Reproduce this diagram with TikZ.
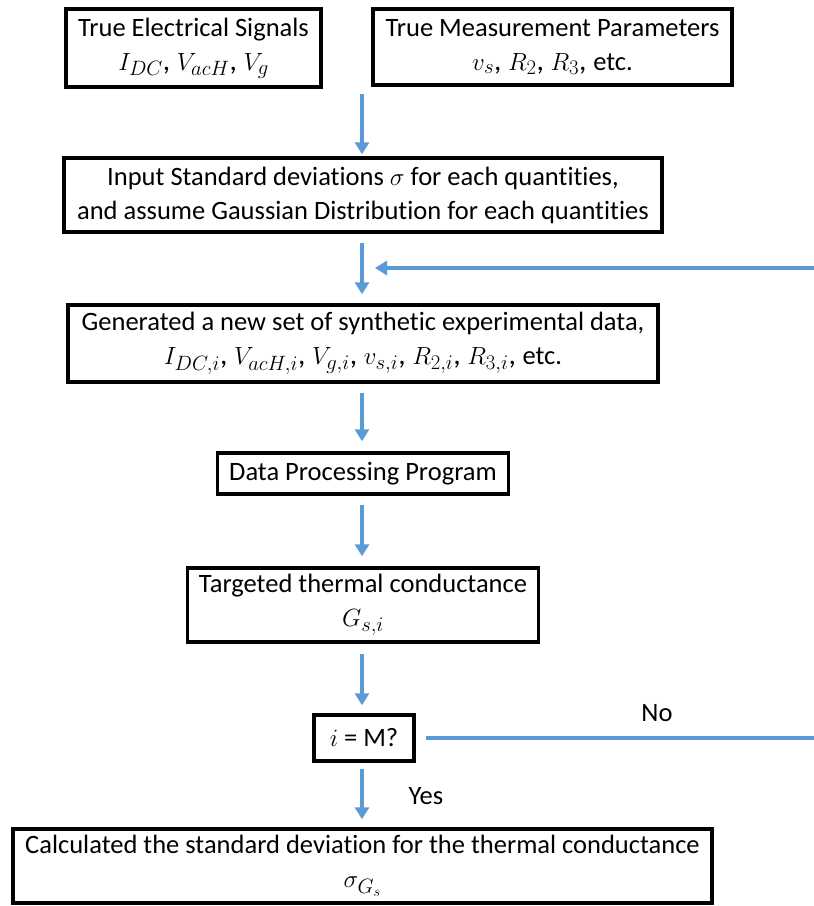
\documentclass[tikz,border=0pt]{standalone}
\usepackage{fontspec}
\setmainfont{Carlito}[Ligatures=NoCommon]
\usetikzlibrary{arrows.meta}
\definecolor{flowblue}{RGB}{91,155,213}
\newcommand{\mline}[1]{{\fontsize{29.5}{36}\selectfont #1}}
\newcommand{\tsmall}[1]{{\fontsize{26.5}{34}\selectfont #1}}
\begin{document}
\begin{tikzpicture}[x=1pt,y=-1pt,
  box/.style={draw=black,line width=3.5pt,align=center,font=\fontsize{26.5}{34}\selectfont,inner sep=0pt},
  arr/.style={draw=flowblue,line width=3.5pt,-{Triangle[width=14pt,length=12pt]}},
  lbl/.style={font=\fontsize{26.5}{30}\selectfont}]
\useasboundingbox (0,0) rectangle (814,906);
\node[box,minimum width=255pt,minimum height=78pt] (b1) at (193.5,48) {True Electrical Signals\\ \mline{$I_{DC}$, $V_{acH}$, $V_g$}};
\node[box,minimum width=359pt,minimum height=76pt] (b2) at (552.5,47) {True Measurement Parameters\\ \mline{$v_s$, $R_2$, $R_3$, \tsmall{etc.}}};
\node[box,minimum width=598pt,minimum height=74pt] (b3) at (363,195) {Input Standard deviations \mline{$\sigma$} for each quantities,\\ and assume Gaussian Distribution for each quantities};
\node[box,minimum width=590pt,minimum height=77pt] (b4) at (363,343.5) {Generated a new set of synthetic experimental data,\\ \mline{$I_{DC,i}$, $V_{acH,i}$, $V_{g,i}$, $v_{s,i}$, $R_{2,i}$, $R_{3,i}$, \tsmall{etc.}}};
\node[box,minimum width=291pt,minimum height=41pt] (b5) at (363,473.5) {Data Processing Program};
\node[box,minimum width=351pt,minimum height=74pt] (b6) at (363,605) {Targeted thermal conductance\\ \mline{$G_{s,i}$}};
\node[box,minimum width=100pt,minimum height=46pt] (b7) at (364,738) {\mline{$i$} = M?};
\node[box,minimum width=699pt,minimum height=74pt] (b8) at (362.5,866) {Calculated the standard deviation for the thermal conductance\\ \mline{$\sigma_{G_s}$}};
\coordinate (start) at (362,94);
\coordinate (fbR) at (814,268);
\coordinate (fbT) at (375,268);
\coordinate (noR) at (814,738);
\draw[arr,shorten >=2pt] (start) -- (start |- b3.north);
\draw[arr,shorten <=9pt,shorten >=9pt] (b3.south -| start) -- (b4.north -| start);
\draw[arr] (fbR) -- (fbT);
\draw[arr,shorten <=9pt,shorten >=10pt] (b4.south -| start) -- (b5.north -| start);
\draw[arr,shorten <=9pt,shorten >=10pt] (b5.south -| start) -- (b6.north -| start);
\draw[arr,shorten <=10pt,shorten >=8pt] (b6.south -| start) -- (b7.north -| start);
\draw[arr,shorten <=6pt,shorten >=8pt] (b7.south -| start) -- (b8.north -| start);
\draw[draw=flowblue,line width=3.5pt,shorten <=10pt] (b7.east) -- (noR);
\node[lbl] (no) at (657,713) {No};
\node[lbl] (yes) at (426,796) {Yes};
\end{tikzpicture}
\end{document}
